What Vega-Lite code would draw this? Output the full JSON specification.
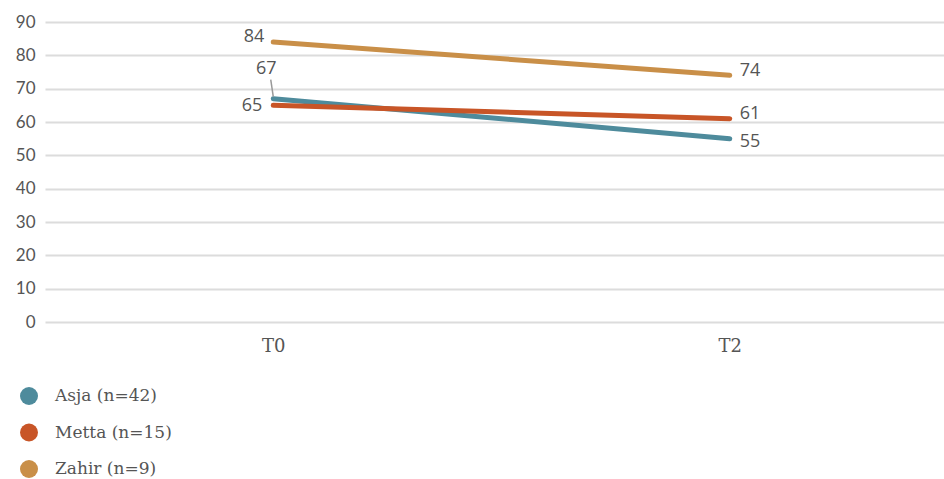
{
  "$schema": "https://vega.github.io/schema/vega-lite/v6.json",
  "width": 913,
  "height": 300,
  "autosize": {"type": "none"},
  "padding": {"left": 45, "top": 22, "right": 0, "bottom": 157},
  "background": "white",
  "config": {
    "view": {"stroke": null},
    "text": {"font": "Open Sans", "fontSize": 18, "color": "#555555"}
  },
  "data": {
    "values": [
      {"group": "Asja (n=42)", "time": "T0", "score": 67},
      {"group": "Asja (n=42)", "time": "T2", "score": 55},
      {"group": "Metta (n=15)", "time": "T0", "score": 65},
      {"group": "Metta (n=15)", "time": "T2", "score": 61},
      {"group": "Zahir (n=9)", "time": "T0", "score": 84},
      {"group": "Zahir (n=9)", "time": "T2", "score": 74}
    ]
  },
  "encoding": {
    "x": {
      "field": "time",
      "type": "ordinal",
      "scale": {"type": "point", "padding": 0.5},
      "axis": {
        "title": null,
        "domain": false,
        "ticks": false,
        "labelAngle": 0,
        "labelPadding": 15,
        "labelFont": "DejaVu Serif",
        "labelFontSize": 18,
        "labelColor": "#555555"
      }
    },
    "y": {
      "field": "score",
      "type": "quantitative",
      "scale": {"domain": [0, 90], "nice": false},
      "axis": {
        "title": null,
        "values": [0, 10, 20, 30, 40, 50, 60, 70, 80, 90],
        "domain": false,
        "ticks": false,
        "labelPadding": 10,
        "labelFont": "Lato",
        "labelFontSize": 17,
        "labelColor": "#555555",
        "gridColor": "#dcdcdc",
        "gridWidth": 2
      }
    }
  },
  "layer": [
    {
      "mark": {"type": "line", "strokeWidth": 5, "strokeCap": "round"},
      "encoding": {
        "color": {
          "field": "group",
          "type": "nominal",
          "scale": {
            "domain": ["Asja (n=42)", "Metta (n=15)", "Zahir (n=9)"],
            "range": ["#4e8b9c", "#c85527", "#c98f48"]
          },
          "legend": {
            "title": null,
            "orient": "none",
            "direction": "vertical",
            "legendX": -25,
            "legendY": 365,
            "symbolType": "circle",
            "symbolSize": 324,
            "symbolStrokeWidth": 0,
            "labelFont": "DejaVu Serif",
            "labelFontSize": 17,
            "labelColor": "#555555",
            "labelOffset": 17,
            "rowPadding": 18.5,
            "encode": {
              "symbols": {
                "update": {
                  "fill": {"scale": "color", "field": "value"},
                  "opacity": {"value": 1}
                }
              }
            }
          }
        }
      }
    },
    {
      "transform": [{"filter": "datum.group === 'Asja (n=42)' && datum.time === 'T0'"}],
      "mark": {"type": "rule", "color": "#999999", "strokeWidth": 1.5, "xOffset": 0, "x2Offset": -2.5, "yOffset": -2, "y2Offset": -19},
      "encoding": {
        "x2": {"field": "time"},
        "y2": {"field": "score"}
      }
    },
    {
      "transform": [{"filter": "datum.group === 'Asja (n=42)' && datum.time === 'T0'"}],
      "mark": {"type": "text", "align": "center", "baseline": "middle", "dx": -7, "dy": -30},
      "encoding": {"text": {"field": "score", "type": "quantitative"}}
    },
    {
      "transform": [{"filter": "datum.group === 'Metta (n=15)' && datum.time === 'T0'"}],
      "mark": {"type": "text", "align": "right", "baseline": "middle", "dx": -11, "dy": 1},
      "encoding": {"text": {"field": "score", "type": "quantitative"}}
    },
    {
      "transform": [{"filter": "datum.group === 'Zahir (n=9)' && datum.time === 'T0'"}],
      "mark": {"type": "text", "align": "right", "baseline": "middle", "dx": -9, "dy": -5},
      "encoding": {"text": {"field": "score", "type": "quantitative"}}
    },
    {
      "transform": [{"filter": "datum.group === 'Asja (n=42)' && datum.time === 'T2'"}],
      "mark": {"type": "text", "align": "left", "baseline": "middle", "dx": 10, "dy": 3},
      "encoding": {"text": {"field": "score", "type": "quantitative"}}
    },
    {
      "transform": [{"filter": "datum.group === 'Metta (n=15)' && datum.time === 'T2'"}],
      "mark": {"type": "text", "align": "left", "baseline": "middle", "dx": 10, "dy": -5},
      "encoding": {"text": {"field": "score", "type": "quantitative"}}
    },
    {
      "transform": [{"filter": "datum.group === 'Zahir (n=9)' && datum.time === 'T2'"}],
      "mark": {"type": "text", "align": "left", "baseline": "middle", "dx": 10, "dy": -4},
      "encoding": {"text": {"field": "score", "type": "quantitative"}}
    }
  ]
}
